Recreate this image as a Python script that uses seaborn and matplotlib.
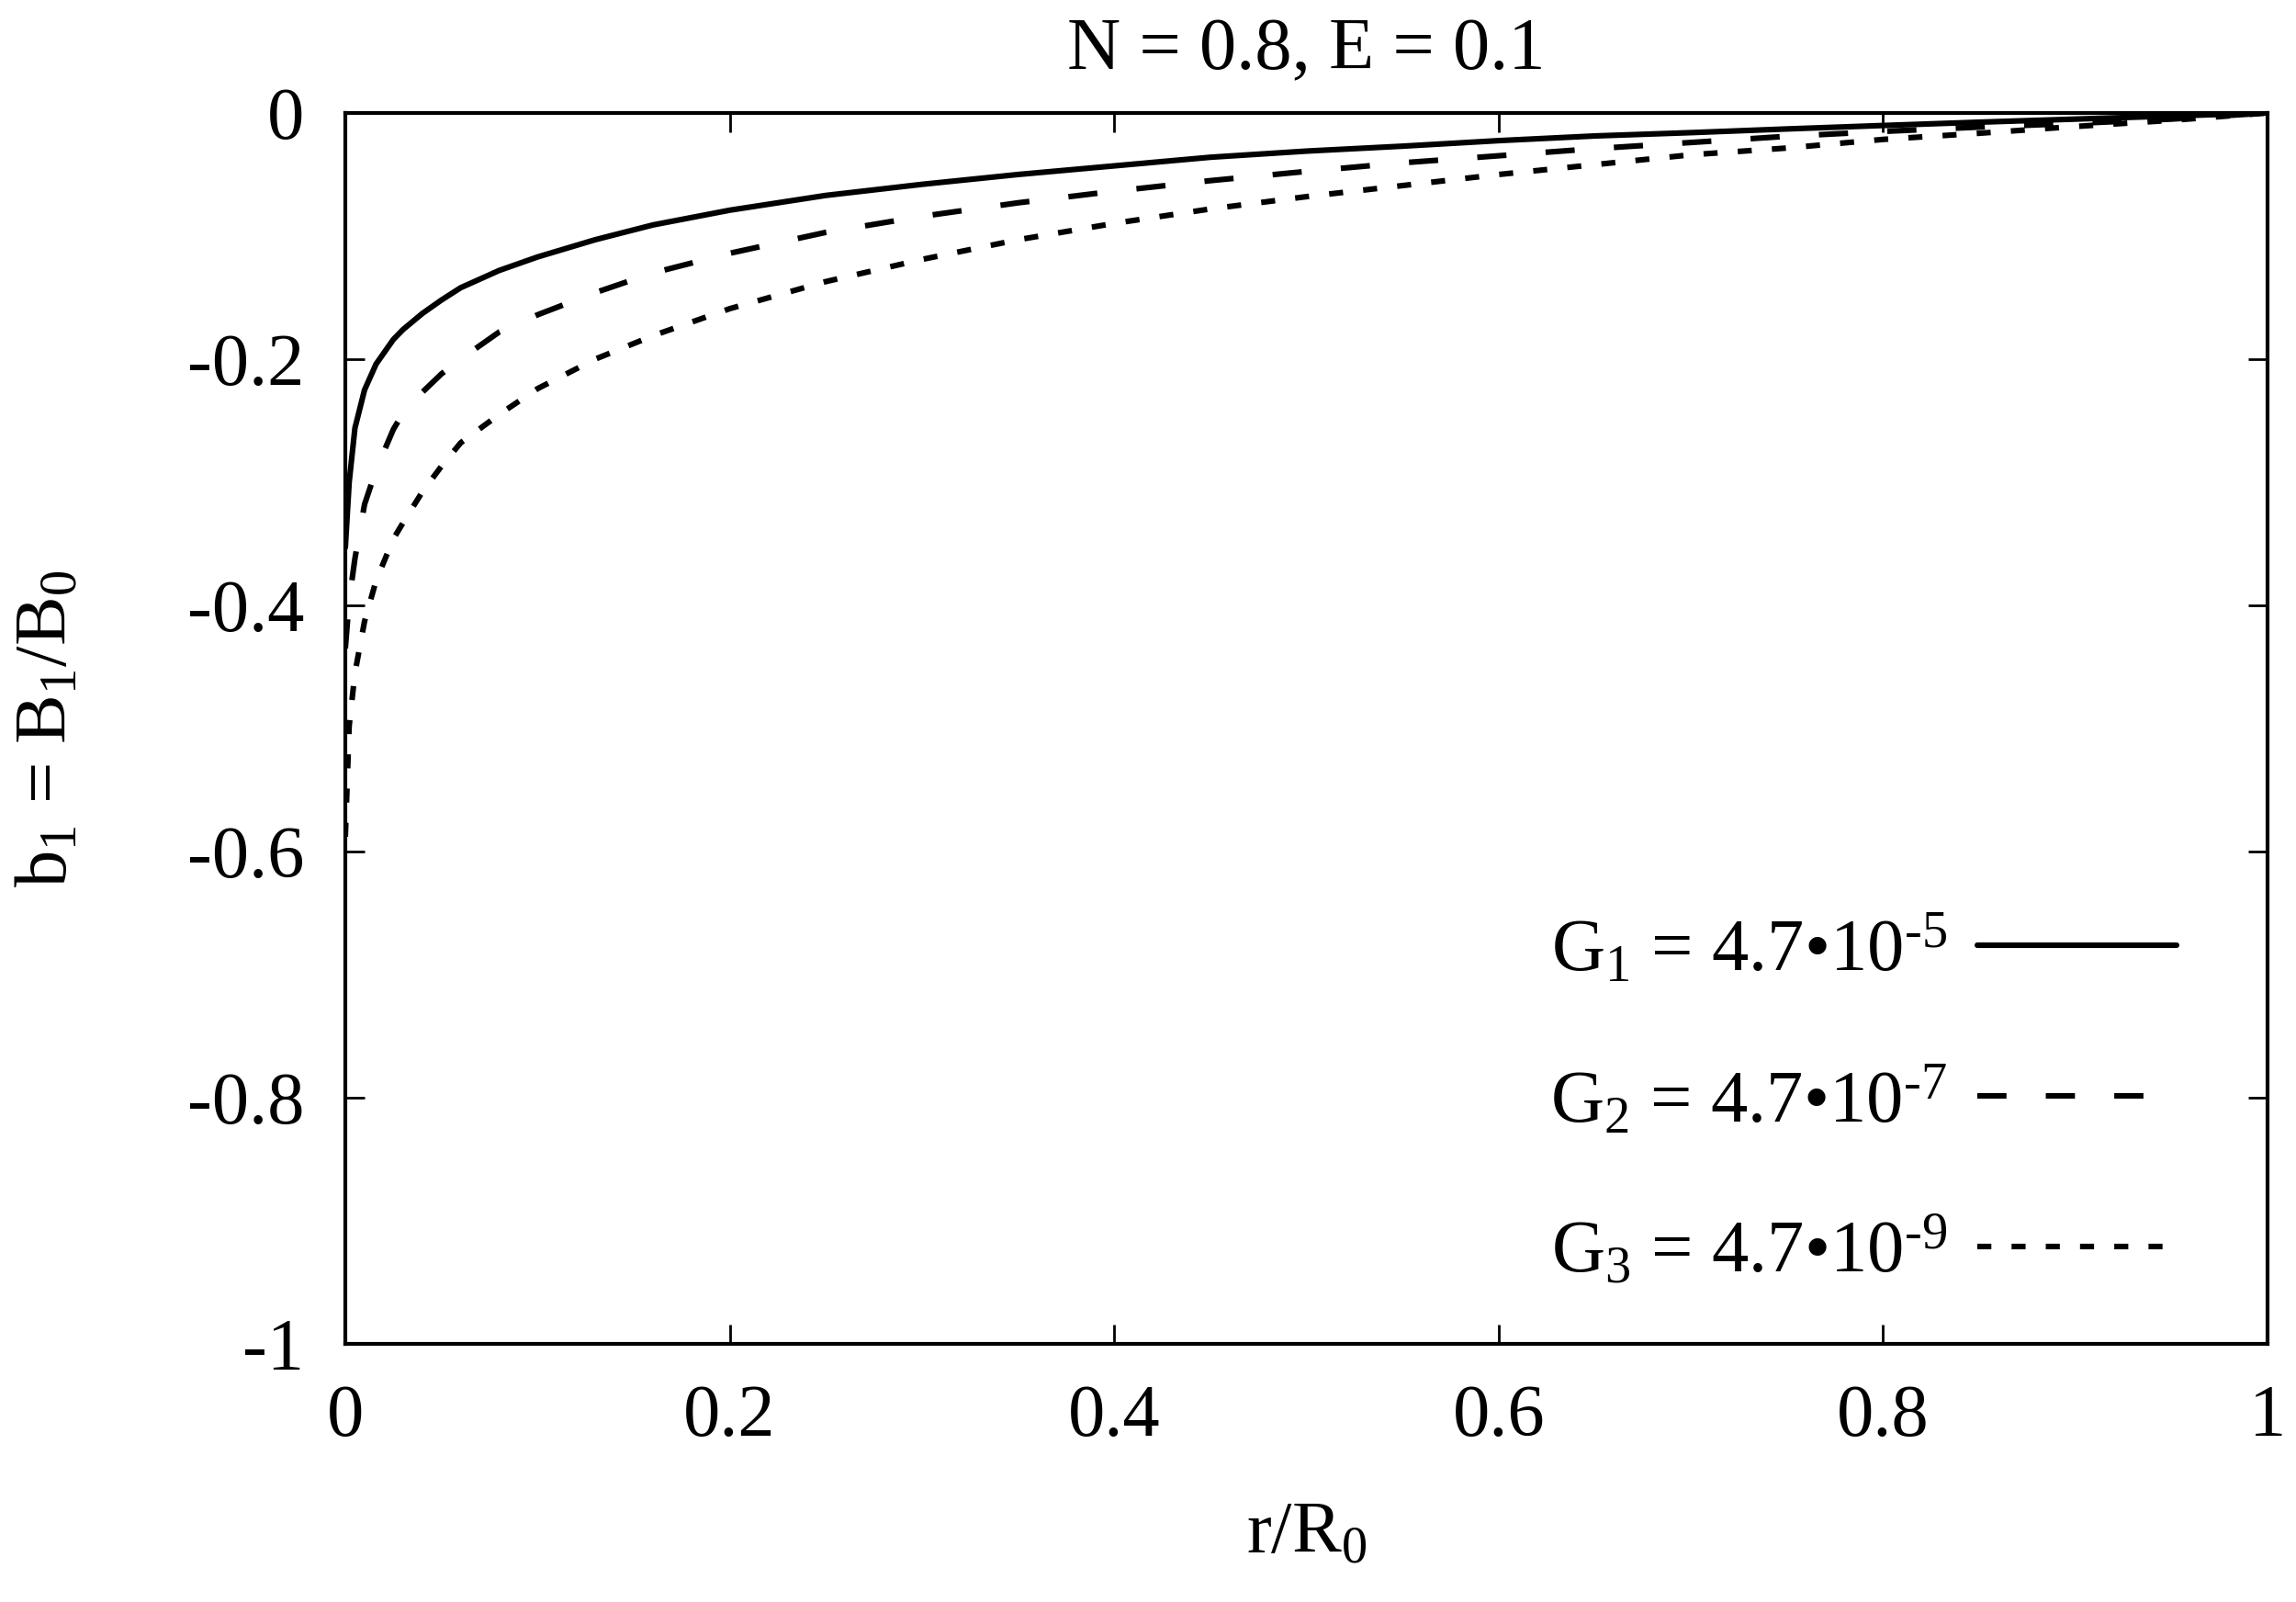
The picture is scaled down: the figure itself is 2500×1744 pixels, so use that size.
import matplotlib
matplotlib.use("Agg")
import matplotlib.pyplot as plt
import seaborn as sns
from matplotlib.ticker import FuncFormatter

# r/R0 sample positions and read-off curve values
r = [0, 0.002, 0.005, 0.01, 0.016, 0.025, 0.03, 0.04, 0.05, 0.06, 0.08, 0.1,
     0.13, 0.16, 0.2, 0.25, 0.3, 0.35, 0.4, 0.45, 0.5, 0.55, 0.6, 0.65, 0.7,
     0.75, 0.8, 0.85, 0.9, 0.95, 1.0]

b1_g1 = [-0.353, -0.300, -0.256, -0.225, -0.204, -0.184, -0.176, -0.163, -0.152,
         -0.142, -0.128, -0.117, -0.103, -0.091, -0.079, -0.067, -0.058, -0.050,
         -0.043, -0.036, -0.031, -0.027, -0.0225, -0.0187, -0.016, -0.013,
         -0.0102, -0.0075, -0.005, -0.0025, 0.0]

b1_g2 = [-0.435, -0.396, -0.362, -0.318, -0.290, -0.257, -0.244, -0.227, -0.212,
         -0.200, -0.178, -0.164, -0.146, -0.130, -0.114, -0.097, -0.084, -0.073,
         -0.0636, -0.055, -0.0475, -0.0405, -0.0348, -0.029, -0.024, -0.019,
         -0.015, -0.0115, -0.0085, -0.005, 0.0]

b1_g3 = [-0.588, -0.498, -0.455, -0.413, -0.380, -0.346, -0.333, -0.308, -0.287,
         -0.268, -0.245, -0.224, -0.200, -0.181, -0.159, -0.137, -0.119, -0.103,
         -0.0897, -0.078, -0.068, -0.059, -0.050, -0.042, -0.034, -0.0285,
         -0.0215, -0.0165, -0.011, -0.006, 0.0]

labels = [r"G$_1$ = 4.7•10$^{\text{-}5}$",
          r"G$_2$ = 4.7•10$^{\text{-}7}$",
          r"G$_3$ = 4.7•10$^{\text{-}9}$"]

x_ticks = [0, 0.2, 0.4, 0.6, 0.8, 1]
y_ticks = [0, -0.2, -0.4, -0.6, -0.8, -1]

sns.set_theme(style="ticks")
plt.rcParams["font.family"] = ["Liberation Serif", "DejaVu Serif"]
plt.rcParams["mathtext.fontset"] = "custom"
plt.rcParams["mathtext.rm"] = "Liberation Serif"
plt.rcParams["mathtext.it"] = "Liberation Serif:italic"
plt.rcParams["axes.unicode_minus"] = False
plt.rcParams["text.color"] = "black"
plt.rcParams["axes.labelcolor"] = "black"

fs = 29
fig = plt.figure(figsize=(12.5, 8.72), dpi=200)
ax = fig.add_axes([0.1504, 0.1611, 0.8372, 0.7684])

styles = ["-", (0, (5.2, 7.0)), (0, (2.5, 3.6))]
for vals, lab, ls in zip([b1_g1, b1_g2, b1_g3], labels, styles):
    sns.lineplot(x=r, y=vals, ax=ax, color="black", linewidth=2.2,
                 linestyle=ls, label=lab, sort=False)

ax.set_xlim(0, 1)
ax.set_ylim(-1, 0)
ax.set_xticks(x_ticks)
ax.set_yticks(y_ticks)
fmt = FuncFormatter(lambda v, p: "%g" % v)
ax.xaxis.set_major_formatter(fmt)
ax.yaxis.set_major_formatter(fmt)
ax.tick_params(direction="in", top=True, right=True, length=7.5, width=1.0,
               labelsize=fs, colors="black")
ax.tick_params(axis="x", pad=16)
ax.tick_params(axis="y", pad=16)
for sp in ax.spines.values():
    sp.set_linewidth(1.5)
    sp.set_color("black")

ax.set_title("N = 0.8, E = 0.1", fontsize=fs, pad=17, color="black")
ax.set_xlabel(r"r/R$_0$", fontsize=fs)
ax.set_ylabel(r"b$_1$ = B$_1$/B$_0$", fontsize=fs)
ax.xaxis.set_label_coords(0.5, -0.128)
ax.yaxis.set_label_coords(-0.137, 0.5)

ax.legend(loc="center right", bbox_to_anchor=(0.9527, 0.1975), frameon=False,
          markerfirst=False, fontsize=fs, handlelength=2.7, handletextpad=0.4,
          labelspacing=1.05, borderpad=0, borderaxespad=0)

fig.savefig("out.png", dpi=200)
